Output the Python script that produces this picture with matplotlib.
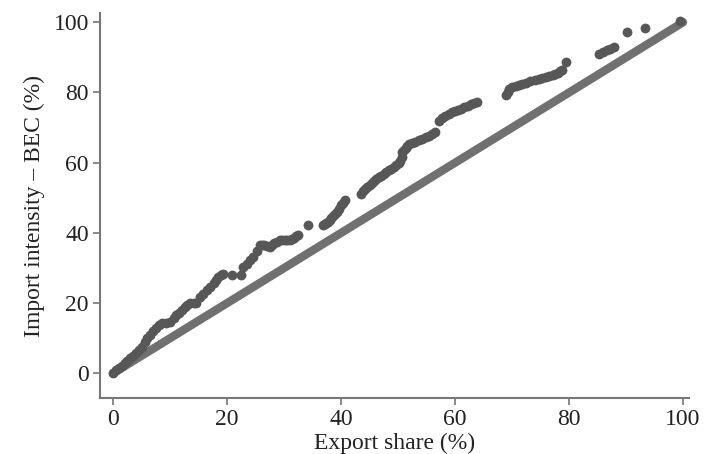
import matplotlib.pyplot as plt

plt.rcParams['font.family'] = ['Liberation Serif', 'DejaVu Serif']

# diagonal reference line (export share = import intensity)
diag_x = [0, 100]
diag_y = [0, 100]

# observed points
export_share = [0, 0.5, 1, 1.5, 2, 2.5, 3, 3.5, 4, 4.5, 5, 5.5, 6, 6.5, 7, 7.5, 8, 8.6,
                9.3, 10, 10.6, 11.1, 11.6, 12, 12.6, 13, 13.5, 14.1, 14.6, 15.2, 15.8, 16.4,
                17, 17.6, 18, 18.4, 18.9, 19.3, 20.8, 22.5, 22.8, 23.4, 24, 24.6, 25.2, 25.7,
                26.1, 26.5, 27, 27.5, 27.9, 28.3, 28.8, 29.2, 29.7, 30.1, 30.5, 31, 31.4,
                31.7, 32.1, 32.4, 34.2, 36.8, 37.1, 37.4, 37.7, 38, 38.3, 38.6, 38.9,
                39.2, 39.6, 40, 40.3, 40.6, 43.5, 43.9, 44.2, 44.6, 45, 45.4, 45.8, 46.2,
                46.6, 47, 47.5, 47.9, 48.4, 48.8, 49.2, 49.7, 50.1, 50.4, 50.7, 50.7, 51,
                51.3, 51.6, 51.9, 52.5, 53, 53.6, 54.2, 54.8, 55.4, 56, 56.5, 57.1, 57.7,
                58.3, 58.9, 59.5, 60, 60.5, 61, 61.6, 62.2, 62.7, 63.3, 63.9, 68.9, 69.2,
                69.5, 70, 70.6, 71.2, 71.8, 72.5, 73.2, 74, 74.7, 75.3, 75.9, 76.5, 77.1,
                77.6, 78, 78.4, 78.8, 79.4, 85.3, 85.9, 86.6, 87.2, 87.9, 90.2, 93.4, 99.5]
import_intensity = [0, 0.8, 1.5, 2.2, 2.9, 3.6, 4.3, 5, 5.8, 6.7, 7.6, 8.8, 10, 11, 12, 13,
                    13.8, 14.2, 14.4, 14.6, 15.6, 16.5, 17.3, 18, 19, 19.4, 19.9, 20, 19.9,
                    21.7, 22.7, 23.7, 24.6, 25.7, 26.6, 27.4, 28, 28.4, 27.9, 27.9, 30.3, 31,
                    32.2, 33.2, 34.8, 36.5, 36.5, 36.4, 36.2, 36, 36.5, 37, 37.5, 37.9, 38,
                    38, 37.9, 37.9, 38.2, 38.6, 39, 39.3, 42.2, 42.2, 42.5, 42.9, 43.2, 43.6,
                    44.2, 44.8, 45.4, 46, 46.9, 47.8, 48.6, 49.3, 51.2, 51.8, 52.4, 53, 53.6,
                    54.2, 54.8, 55.4, 55.9, 56.3, 56.8, 57.3, 57.8, 58.3, 58.8, 59.3, 59.8,
                    60.6, 61.5, 63, 63.6, 64.2, 64.8, 65.4, 65.7, 66, 66.4, 66.8, 67.2, 67.7,
                    68.2, 68.7, 72, 72.6, 73.2, 73.8, 74.4, 74.7, 75.1, 75.4, 75.8, 76.2,
                    76.6, 76.9, 77.3, 79.2, 80.2, 81.1, 81.5, 81.9, 82.2, 82.5, 82.8, 83.2,
                    83.6, 83.9, 84.2, 84.4, 84.6, 84.9, 85.2, 85.6, 86, 86.3, 88.7, 91.1,
                    91.5, 92, 92.5, 93, 97.3, 98.3, 100.3]

fig = plt.figure(figsize=(7.05, 4.54), dpi=100)
ax = fig.add_axes([0.142, 0.123, 0.835, 0.848])

ax.plot(diag_x, diag_y, color='#707070', linewidth=6, solid_capstyle='round', zorder=2)
ax.scatter(export_share, import_intensity, s=50, color='#575757', linewidths=0, zorder=3)

ax.set_xlim(-2.3, 101)
ax.set_ylim(-7.1, 102.6)
ax.set_xticks([0, 20, 40, 60, 80, 100])
ax.set_yticks([0, 20, 40, 60, 80, 100])

for s in ['top', 'right']:
    ax.spines[s].set_visible(False)
for s in ['left', 'bottom']:
    ax.spines[s].set_color('#777777')
    ax.spines[s].set_linewidth(1.5)
ax.tick_params(colors='#777777', labelcolor='#222222', labelsize=17, length=5, width=1.2, pad=3)

ax.set_xlabel('Export share (%)', fontsize=17, color='#222222', labelpad=2)
ax.set_ylabel('Import intensity – BEC (%)', fontsize=17, color='#222222', labelpad=6)

fig.savefig('out.png', dpi=100)
